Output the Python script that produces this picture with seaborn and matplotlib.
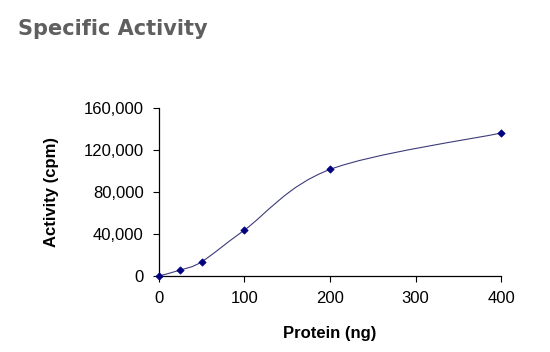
import numpy as np
import pandas as pd
import matplotlib
matplotlib.use("Agg")
import matplotlib.pyplot as plt
from matplotlib.path import Path
from matplotlib.patches import PathPatch
import seaborn as sns

sns.set_style("ticks")
plt.rcParams['font.family'] = ['Liberation Sans', 'DejaVu Sans']
plt.rcParams['text.color'] = 'black'
plt.rcParams['axes.labelcolor'] = 'black'
plt.rcParams['xtick.color'] = 'black'
plt.rcParams['ytick.color'] = 'black'

# values
protein_ng = [0, 25, 50, 100, 200, 400]
activity_cpm = [0, 5700, 13600, 43800, 101500, 136200]
x_ticks = [0, 100, 200, 300, 400]
y_ticks = [0, 40000, 80000, 120000, 160000]

df = pd.DataFrame({"Protein (ng)": protein_ng, "Activity (cpm)": activity_cpm})

fig = plt.figure(figsize=(5.5, 3.52), dpi=100)
ax = fig.add_axes([0.289, 0.216, 0.622, 0.477])

# smoothed line like the spreadsheet one (Catmull-Rom as Bezier segments)
p = df[["Protein (ng)", "Activity (cpm)"]].to_numpy(dtype=float)
ext = np.vstack([p[0], p, p[-1]])
verts = [tuple(p[0])]
codes = [Path.MOVETO]
for i in range(1, len(ext) - 2):
    c1 = ext[i] + (ext[i + 1] - ext[i - 1]) / 6
    c2 = ext[i + 1] - (ext[i + 2] - ext[i]) / 6
    verts += [tuple(c1), tuple(c2), tuple(ext[i + 1])]
    codes += [Path.CURVE4] * 3
ax.add_patch(PathPatch(Path(verts, codes), facecolor="none",
                       edgecolor="#3c3c78", lw=0.8, zorder=2))

sns.scatterplot(data=df, x="Protein (ng)", y="Activity (cpm)", ax=ax,
                marker="D", s=14, color="#000080", edgecolor="#000080",
                linewidth=0.5, zorder=3, clip_on=False)

ax.set_xlim(0, 400)
ax.set_ylim(0, 160000)
ax.set_xticks(x_ticks)
ax.set_yticks(y_ticks)
ax.set_yticklabels([f"{v:,}" for v in y_ticks])
ax.tick_params(axis="both", labelsize=12, length=4, width=0.8, pad=7)
ax.set_xlabel("Protein (ng)", fontsize=12, fontweight="bold", labelpad=14)
ax.set_ylabel("Activity (cpm)", fontsize=12, fontweight="bold", labelpad=18)
sns.despine(ax=ax)
for s in ["left", "bottom"]:
    ax.spines[s].set_color("black")
    ax.spines[s].set_linewidth(0.9)

fig.text(0.033, 0.918, "Specific Activity", fontsize=15, fontweight="bold",
         color="#5f5f5f", va="center", ha="left", family=["DejaVu Sans"])

fig.savefig("out.png", dpi=100)
